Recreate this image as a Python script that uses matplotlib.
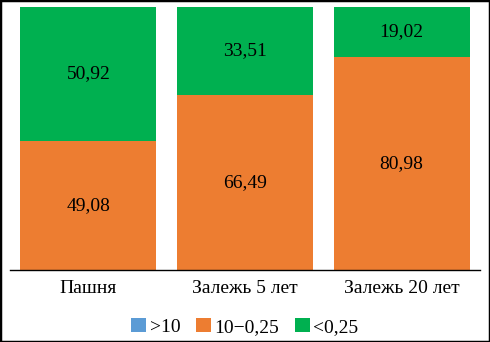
import numpy as np
import matplotlib
matplotlib.use('Agg')
from matplotlib import pyplot as plt
from matplotlib.patches import Rectangle

categories = ['Пашня', 'Залежь 5 лет', 'Залежь 20 лет']
gt10 = [0.0, 0.0, 0.0]
mid = [49.08, 66.49, 80.98]
lt025 = [50.92, 33.51, 19.02]
series_names = ['>10', '10\u22120,25', '<0,25']
colors = ['#5B9BD5', '#ED7D31', '#00B050']

plt.rcParams['font.family'] = ['Liberation Serif', 'DejaVu Serif']
plt.rcParams['font.size'] = 14

fig = plt.figure(figsize=(4.9, 3.42), dpi=100)
ax = fig.add_axes([10/490, 1-270/342, 470/490, 263/342])

x = np.arange(len(categories))
w = 0.87
b1 = ax.bar(x, gt10, w, color=colors[0], label=series_names[0])
b2 = ax.bar(x, mid, w, bottom=gt10, color=colors[1], label=series_names[1])
bot = np.array(gt10) + np.array(mid)
b3 = ax.bar(x, lt025, w, bottom=bot, color=colors[2], label=series_names[2])

for i in range(len(categories)):
    ax.text(x[i], gt10[i] + mid[i]/2, f'{mid[i]:.2f}'.replace('.', ','),
            ha='center', va='center', fontsize=14)
    ax.text(x[i], bot[i] + lt025[i]/2, f'{lt025[i]:.2f}'.replace('.', ','),
            ha='center', va='center', fontsize=14)

ax.set_xlim(-0.5, 2.5)
ax.set_ylim(0, 100)
ax.set_yticks([])
ax.set_xticks(x)
ax.set_xticklabels(categories, fontsize=14)
ax.tick_params(axis='x', length=0, pad=7)
for s in ['top', 'right', 'left']:
    ax.spines[s].set_visible(False)
ax.spines['bottom'].set_linewidth(1.0)

fig.legend(loc='center', bbox_to_anchor=(0.5, 1-327/342), ncol=3, frameon=False,
           fontsize=14, handlelength=0.75, handleheight=0.75, handletextpad=0.2,
           columnspacing=0.8)

fig.patches.append(Rectangle((0, 0), 1, 1, transform=fig.transFigure,
                             fill=False, edgecolor='black', linewidth=2.5))

plt.savefig('out.png', dpi=100)
